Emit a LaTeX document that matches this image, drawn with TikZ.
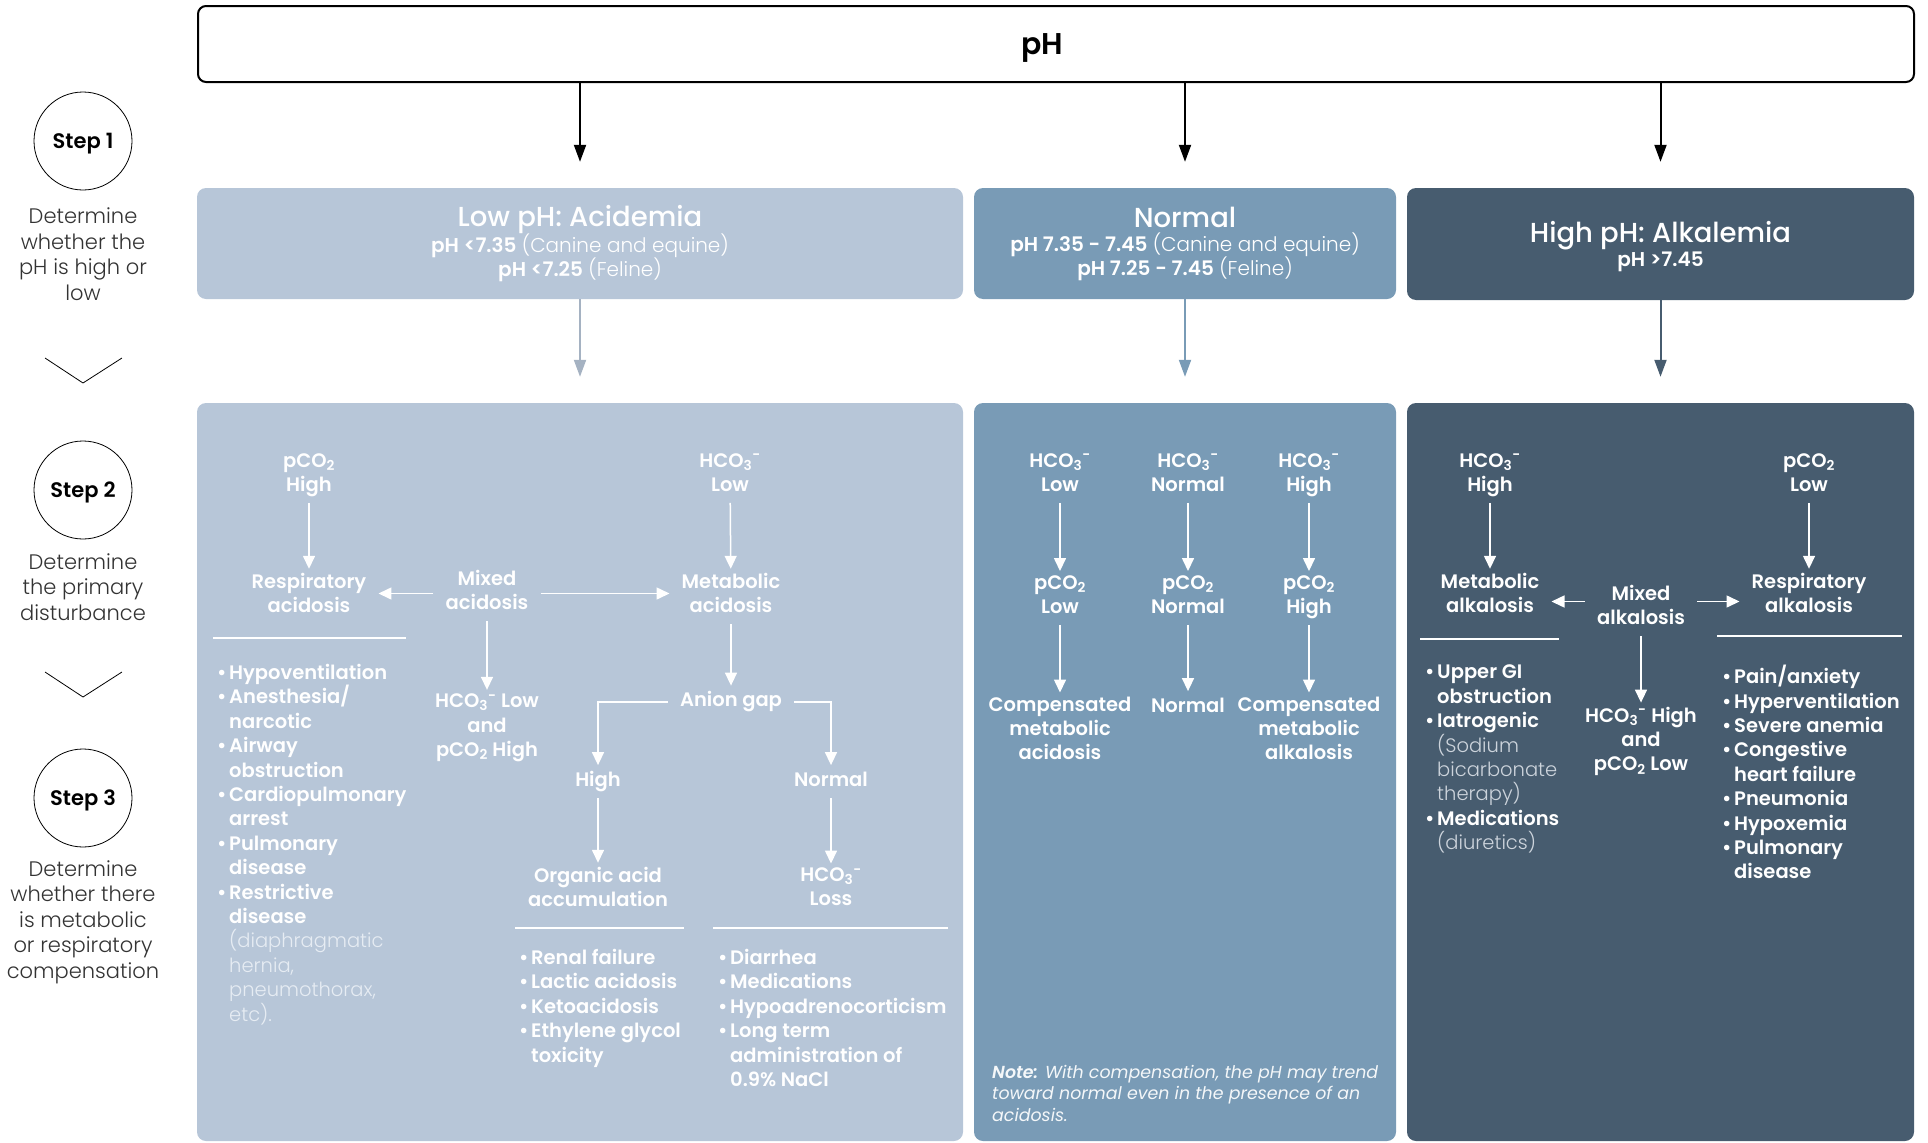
\documentclass[tikz,border=0pt]{standalone}
\usepackage{fontspec}
\setmainfont{Poppins}[BoldFont={Poppins SemiBold}]
\newfontfamily\lightfont{Poppins Light}
\newfontfamily\medfont{Poppins Medium}
\usetikzlibrary{arrows.meta}

\definecolor{acidblue}{RGB}{183,198,216}
\definecolor{normblue}{RGB}{121,155,182}
\definecolor{alkblue}{RGB}{71,92,111}
\definecolor{acidlite}{RGB}{230,236,243}
\definecolor{alklite}{RGB}{205,212,220}

\newcommand{\hco}{HCO\textsubscript{3}\textsuperscript{-}}
\newcommand{\pco}{pCO\textsubscript{2}}
\newcommand{\itm}{\makebox[12pt][l]{•}}
\newcommand{\ind}{\hspace*{12pt}}
\newcommand{\lite}[2][acidlite]{{\lightfont\mdseries\color{#1}#2}}

\tikzset{
  panel/.style={rounded corners=9pt, inner sep=0pt},
  hbox/.style={panel, text=white, align=center, font=\fontsize{20}{24}\selectfont},
  stepc/.style={circle, draw, line width=0.8pt, minimum size=98pt, text depth=0pt,
    font=\bfseries\fontsize{21}{24}\selectfont},
  steptxt/.style={align=center, text=black!80, font=\lightfont\fontsize{21}{25.5}\selectfont},
  lbl/.style={text=white, align=center, inner xsep=12pt, inner ysep=4pt,
    execute at begin node=\strut, execute at end node=\strut,
    font=\bfseries\fontsize{19.5}{24.4}\selectfont},
  lst/.style={text=white, align=left, anchor=north west, inner sep=0pt,
    execute at begin node=\strut, font=\bfseries\fontsize{19.5}{24.4}\selectfont},
  warr/.style={white, line width=1.5pt, -{Triangle[length=13pt,width=12pt]}},
  karr/.style={black, line width=2pt, -{Triangle[length=17pt,width=12pt]}, shorten >=26pt},
  carr/.style={line width=2pt, -{Triangle[length=17pt,width=12pt]}, shorten >=26pt},
  sepline/.style={white, line width=1.2pt}
}

\begin{document}
\begin{tikzpicture}[x=1pt,y=-1pt]
\useasboundingbox (0,0) rectangle (1928,1143);

% steps column
\node[stepc] (s1) at (83,141) {Step 1};
\node[steptxt] (d1) at (83,254) {Determine\\whether the\\pH is high or\\low};
\draw[line width=0.8pt] (45,358) -- (83,383) -- (122,358);
\node[stepc] (s2) at (83,490) {Step 2};
\node[steptxt] (d2) at (83,587) {Determine\\the primary\\disturbance};
\draw[line width=0.8pt] (45,672) -- (83,697) -- (122,672);
\node[stepc] (s3) at (83,798) {Step 3};
\node[steptxt] (d3) at (83,922) {Determine\\whether there\\is metabolic\\or respiratory\\compensation};

% pH box
\node[draw, line width=2pt, rounded corners=8pt, minimum width=1716pt, minimum height=76pt,
  text depth=0pt, font=\bfseries\fontsize{30}{30}\selectfont] (ph) at (1056,44) {\hspace*{-28pt}pH};

% first row
\node[hbox, fill=acidblue, minimum width=766pt, minimum height=111pt] (acid) at (580,243.5)
  {{\medfont\fontsize{27.5}{27.5}\selectfont Low pH: Acidemia}\\
   \textbf{pH <7.35} \lite[white]{(Canine and equine)}\\
   \textbf{pH <7.25} \lite[white]{(Feline)}};
\node[hbox, fill=normblue, minimum width=422pt, minimum height=111pt] (norm) at (1185,243.5)
  {{\medfont\fontsize{27.5}{27.5}\selectfont Normal}\\
   \textbf{pH 7.35 - 7.45} \lite[white]{(Canine and equine)}\\
   \textbf{pH 7.25 - 7.45} \lite[white]{(Feline)}};
\node[hbox, fill=alkblue, minimum width=507pt, minimum height=112pt, text depth=0pt] (alk) at (1660.5,244)
  {{\medfont\fontsize{27.5}{27.5}\selectfont High pH: Alkalemia}\\
   \textbf{pH >7.45}};

\draw[karr] (ph.south -| acid.north) -- (acid.north);
\draw[karr] (ph.south -| norm.north) -- (norm.north);
\draw[karr] (ph.south -| alk.north) -- (alk.north);

% second row panels
\node[panel, fill=acidblue, minimum width=766pt, minimum height=738pt] (acidp) at (580,772) {};
\node[panel, fill=normblue, minimum width=422pt, minimum height=738pt] (normp) at (1185,772) {};
\node[panel, fill=alkblue, minimum width=507pt, minimum height=738pt] (alkp) at (1660.5,772) {};

\draw[carr, acidblue!90!black] (acid.south) -- (acidp.north);
\draw[carr, normblue] (norm.south) -- (normp.north);
\draw[carr, alkblue] (alk.south) -- (alkp.north);

% acidemia panel
\node[lbl] (pch) at (309,476) {\pco\\High};
\node[lbl] (resa) at (309,596.5) {Respiratory\\acidosis};
\node[lbl] (mixac) at (487,593.5) {Mixed\\acidosis};
\node[lbl] (mixlo) at (487,729) {\hco{} Low\\and\\\pco{} High};
\node[lbl] (hcol) at (730,476) {\hco\\Low};
\node[lbl] (meta) at (731,596.5) {Metabolic\\acidosis};
\node[lbl] (gap) at (731,702) {Anion gap};
\node[lbl] (aghi) at (598,781.5) {High};
\node[lbl] (agno) at (831,781.5) {Normal};
\node[lbl] (orga) at (598,890.5) {Organic acid\\accumulation};
\node[lbl] (hcoloss) at (831,890.5) {\hco\\Loss};

\draw[warr] (pch) -- (resa);
\draw[warr] (mixac.west) -- (mixac.west -| resa.east);
\draw[warr] (mixac.east) -- (mixac.east -| meta.west);
\draw[warr] (mixac) -- (mixlo);
\draw[warr] (hcol) -- (meta);
\draw[warr] (meta) -- (gap);
\draw[warr] (gap.west) -| (aghi);
\draw[warr] (gap.east) -| (agno);
\draw[warr] (aghi) -- (orga);
\draw[warr] (agno) -- (hcoloss);

\draw[sepline] (213,638) -- (406,638);
\draw[sepline] (515,928) -- (684,928);
\draw[sepline] (713,928) -- (948,928);

\node[lst] (resalist) at (217,664) {\itm Hypoventilation\\
  \itm Anesthesia/\\ \ind narcotic\\
  \itm Airway\\ \ind obstruction\\
  \itm Cardiopulmonary\\ \ind arrest\\
  \itm Pulmonary\\ \ind disease\\
  \itm Restrictive\\ \ind disease\\
  \ind\lite{(diaphragmatic}\\ \ind\lite{hernia,}\\
  \ind\lite{pneumothorax,}\\ \ind\lite{etc).}};
\node[lst] (orgalist) at (519,949) {\itm Renal failure\\
  \itm Lactic acidosis\\ \itm Ketoacidosis\\
  \itm Ethylene glycol\\ \ind toxicity};
\node[lst] (losslist) at (718,949) {\itm Diarrhea\\
  \itm Medications\\ \itm Hypoadrenocorticism\\
  \itm Long term\\ \ind administration of\\ \ind 0.9\% NaCl};

% normal panel
\node[lbl] (nh1) at (1060,476) {\hco\\Low};
\node[lbl] (np1) at (1060,598) {\pco\\Low};
\node[lbl] (nr1) at (1060,732) {Compensated\\metabolic\\acidosis};
\node[lbl] (nh2) at (1188,476) {\hco\\Normal};
\node[lbl] (np2) at (1188,598) {\pco\\Normal};
\node[lbl] (nr2) at (1188,707.5) {Normal};
\node[lbl] (nh3) at (1309,476) {\hco\\High};
\node[lbl] (np3) at (1309,598) {\pco\\High};
\node[lbl] (nr3) at (1309,732) {Compensated\\metabolic\\alkalosis};

\draw[warr] (nh1) -- (np1);
\draw[warr] (np1) -- (nr1);
\draw[warr] (nh2) -- (np2);
\draw[warr] (np2) -- (nr2);
\draw[warr] (nh3) -- (np3);
\draw[warr] (np3) -- (nr3);

\node[anchor=north west, align=left, inner sep=0pt, text=white!92!normblue,
  font=\itshape\fontsize{17.4}{21.5}\selectfont] (note) at (992,1065)
  {\textbf{Note:} With compensation, the pH may trend\\
   toward normal even in the presence of an\\acidosis.};

% alkalemia panel
\node[lbl] (hcoh) at (1490,476) {\hco\\High};
\node[lbl] (metal) at (1490,596.5) {Metabolic\\alkalosis};
\node[lbl] (pcl) at (1809,476) {\pco\\Low};
\node[lbl] (resal) at (1809,596.5) {Respiratory\\alkalosis};
\node[lbl] (mixal) at (1641,608.5) {Mixed\\alkalosis};
\node[lbl] (mixhi) at (1641,742.5) {\hco{} High\\and\\\pco{} Low};

\draw[warr] (hcoh) -- (metal);
\draw[warr] (pcl) -- (resal);
\draw[warr] ([yshift=7pt]mixal.west) -- ([yshift=7pt]mixal.west -| metal.east);
\draw[warr] ([yshift=7pt]mixal.east) -- ([yshift=7pt]mixal.east -| resal.west);
\draw[warr] (mixal) -- (mixhi);

\draw[sepline] (1420,639) -- (1559,639);
\draw[sepline] (1717,636) -- (1902,636);

\node[lst] (metallist) at (1425,665) {\itm Upper GI\\ \ind obstruction\\
  \itm Iatrogenic\\ \ind\lite[alklite]{(Sodium}\\
  \ind\lite[alklite]{bicarbonate}\\ \ind\lite[alklite]{therapy)}\\
  \itm Medications\\ \ind\lite[alklite]{(diuretics)}};
\node[lst] (resallist) at (1722,665) {\itm Pain/anxiety\\
  \itm Hyperventilation\\ \itm Severe anemia\\
  \itm Congestive\\ \ind heart failure\\
  \itm Pneumonia\\ \itm Hypoxemia\\
  \itm Pulmonary\\ \ind disease};
\end{tikzpicture}
\end{document}
